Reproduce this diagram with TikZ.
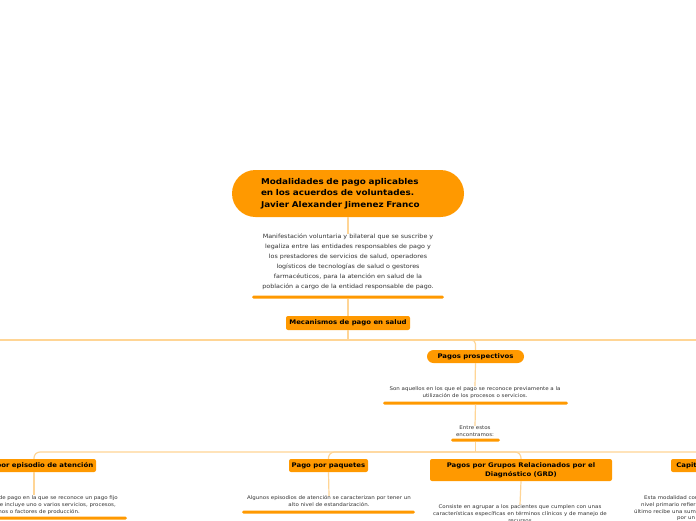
\documentclass[tikz,border=0pt]{standalone}
\usepackage{fontspec}
\setmainfont[FakeStretch=1.1]{DejaVu Sans}
\definecolor{org}{HTML}{FF9900}
\definecolor{lin}{HTML}{FFD595}
\definecolor{txt}{HTML}{333333}
\tikzset{
  conn/.style={draw=lin, line width=1.2pt},
  mainbox/.style={fill=org, draw=none, font=\fontsize{6.3}{9}\selectfont\bfseries, text=black, inner sep=0pt, minimum height=13pt, align=center},
  bar/.style={fill=org, draw=none, inner sep=0pt, minimum height=3pt, rounded corners=1.5pt},
  desc/.style={font=\fontsize{5.0}{7}\selectfont, text=txt, align=center, inner sep=0pt},
}
\begin{document}
\begin{tikzpicture}[x=1pt,y=-1pt]
\useasboundingbox (0,0) rectangle (696,520);
\clip (0,0) rectangle (696,520);
\fill[white] (0,0) rectangle (696,520);

% root
\node[fill=org, rounded corners=23.5pt, minimum width=232pt, minimum height=47pt, text width=174pt, align=left, font=\fontsize{8}{11.7}\selectfont\bfseries, inner sep=0pt] (root) at (348,193.5) {Modalidades de pago aplicables\\en los acuerdos de voluntades.\\Javier Alexander Jimenez Franco};

\node[font=\fontsize{5.8}{10}\selectfont, text=txt, align=center, inner sep=0pt] (d1) at (348,262) {Manifestación voluntaria y bilateral que se suscribe y\\legaliza entre las entidades responsables de pago y\\los prestadores de servicios de salud, operadores\\logísticos de tecnologías de salud o gestores\\farmacéuticos, para la atención en salud de la\\población a cargo de la entidad responsable de pago.};
\node[bar, minimum width=192pt] (b1) at (348,297) {};

\node[mainbox, minimum width=124pt, minimum height=14pt, rounded corners=2pt] (mec) at (348,323) {Mecanismos de pago en salud};

\node[mainbox, minimum width=97pt, rounded corners=6.5pt] (pro) at (475.5,356.5) {Pagos prospectivos};
\node[desc] (d2) at (475,392.5) {Son aquellos en los que el pago se reconoce previamente a la\\utilización de los procesos o servicios.};
\node[bar, minimum width=185pt] (b2) at (475.5,403) {};
\node[desc] (en) at (475,431.5) {Entre estos\\encontramos:};
\node[bar, minimum width=49pt] (b3) at (475.5,440) {};

% children
\node[mainbox, minimum width=124pt, rounded corners=2pt] (epi) at (34,465.5) {Pago por episodio de atención};
\node[mainbox, minimum width=79pt, rounded corners=2pt] (paq) at (328.5,465.5) {Pago por paquetes};
\node[mainbox, minimum width=182pt, minimum height=22pt, rounded corners=2pt] (grd) at (521,470) {Pagos por Grupos Relacionados por el\\Diagnóstico (GRD)};
\node[mainbox, minimum width=52pt, rounded corners=2pt] (cap) at (697,465.5) {Capitación};

% child descriptions
\node[desc, anchor=east] (e1) at (118,498) {de pago en la que se reconoce un pago fijo};
\node[desc, anchor=east] (e2) at (116,505) {e incluye uno o varios servicios, procesos,};
\node[desc, anchor=east] (e3) at (80,512) {nos o factores de producción.};
\node[bar, minimum width=186pt] (be) at (34,518) {};

\node[desc] (pd) at (329,501.5) {Algunos episodios de atención se caracterizan por tener un\\alto nivel de estandarización.};
\node[bar, minimum width=173pt] (bp) at (328.5,512) {};

\node[desc] (gd) at (520,514) {Consiste en agrupar a los pacientes que cumplen con unas\\características específicas en términos clínicos y de manejo de\\recursos};

\node[desc, anchor=west] (c1) at (644,498) {Esta modalidad con};
\node[desc, anchor=west] (c2) at (641,505) {nivel primario refier};
\node[desc, anchor=west] (c3) at (634,512) {último recibe una sum};
\node[desc, anchor=west] (c4) at (677,519) {por un};

% connectors
\coordinate (h1) at (348,340);
\coordinate (hL) at (-10,340);
\coordinate (hR) at (706,340);
\coordinate (h2) at (475.5,452);
\draw[conn] (root.south) -- (d1.north);
\draw[conn] (b1.south) -- (mec.north);
\draw[conn] (mec.south) -- (h1);
\draw[conn] (hL) -- (hR);
\draw[conn, rounded corners=4pt] (h1) -| (pro.north);
\draw[conn] (pro.south) -- (d2.north);
\draw[conn] (b2.south) -- (en.north);
\draw[conn] (b3.south) -- (h2);
\draw[conn, rounded corners=6pt] (h2) -| (epi.north);
\draw[conn, rounded corners=6pt] (h2) -| (paq.north);
\draw[conn, rounded corners=6pt] (h2) -| (grd.north);
\draw[conn, rounded corners=6pt] (h2) -| ([xshift=20pt]cap.north);
\draw[conn] (epi.south) -- (epi.south |- e1.north);
\draw[conn] (paq.south) -- (pd.north);
\draw[conn] (grd.south) -- (gd.north);
\end{tikzpicture}
\end{document}
